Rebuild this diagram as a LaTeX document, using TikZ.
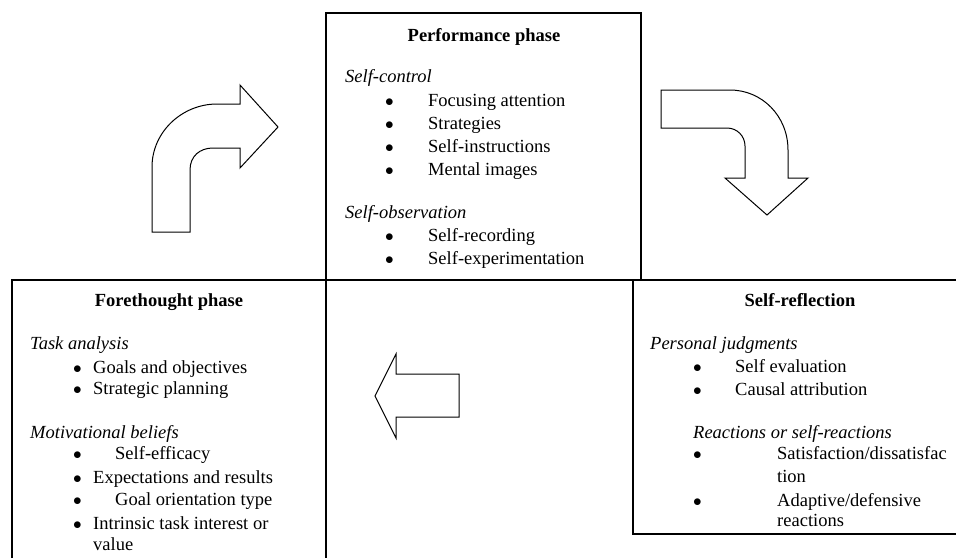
\documentclass[tikz,border=0pt]{standalone}
\usepackage{fontspec}
\setmainfont{Liberation Serif}
\newcommand{\blt}[1]{\makebox[#1][l]{$\bullet$}}
\tikzset{
  txt/.style={anchor=base west,inner sep=0pt,font=\fontsize{18.5}{23}\selectfont},
  head/.style={txt,anchor=base,font=\fontsize{18.5}{23}\selectfont\bfseries},
  sub/.style={txt,font=\fontsize{18.5}{23}\selectfont\itshape},
  frame/.style={line width=1.3pt},
  blockarrow/.style={line width=1pt,line join=miter}
}

\begin{document}
\begin{tikzpicture}[x=1pt,y=-1pt]
    \useasboundingbox (0,0) rectangle (956,558);
    % frames
    \draw [frame] (326,13) rectangle (641,280);
    \draw [frame] (12,558) -- (12,280) -- (326,280) -- (326,558);
    \draw [frame] (956,280) -- (633,280) -- (633,534) -- (956,534);
    % performance phase
    \path (484,  41) node [head] (perf) {Performance phase};
    \path (345,  82) node [sub] (perfctrl) {Self-control};
    \path (385, 106) node [txt] (focus) {\blt{43pt}Focusing attention};
    \path (385, 129) node [txt] (strat) {\blt{43pt}Strategies};
    \path (385, 152) node [txt] (instr) {\blt{43pt}Self-instructions};
    \path (385, 175) node [txt] (images) {\blt{43pt}Mental images};
    \path (345, 218) node [sub] (perfobs) {Self-observation};
    \path (385, 241) node [txt] (record) {\blt{43pt}Self-recording};
    \path (385, 264) node [txt] (experiment) {\blt{43pt}Self-experimentation};
    % forethought phase
    \path (169, 306) node [head] (fore) {Forethought phase};
    \path ( 30, 349) node [sub] (task) {Task analysis};
    \path ( 73, 373) node [txt] (goals) {\blt{20pt}Goals and objectives};
    \path ( 73, 394) node [txt] (planning) {\blt{20pt}Strategic planning};
    \path ( 30, 438) node [sub] (motiv) {Motivational beliefs};
    \path ( 73, 459) node [txt] (efficacy) {\blt{42pt}Self-efficacy};
    \path ( 73, 483) node [txt] (expect) {\blt{20pt}Expectations and results};
    \path ( 73, 505) node [txt] (orient) {\blt{42pt}Goal orientation type};
    \path ( 73, 529) node [txt] (interest) {\blt{20pt}Intrinsic task interest or};
    \path ( 93, 550) node [txt] (value) {value};
    % self-reflection
    \path (800, 306) node [head] (refl) {Self-reflection};
    \path (650, 349) node [sub] (judg) {Personal judgments};
    \path (693, 372) node [txt] (evaluation) {\blt{42pt}Self evaluation};
    \path (693, 395) node [txt] (attribution) {\blt{42pt}Causal attribution};
    \path (693, 438) node [sub] (reactions) {Reactions or self-reactions};
    \path (693, 459) node [txt] (satisf) {\blt{84pt}Satisfaction/dissatisfac};
    \path (777, 482) node [txt] (satisfb) {tion};
    \path (693, 506) node [txt] (adaptive) {\blt{84pt}Adaptive/defensive};
    \path (777, 526) node [txt] (adaptiveb) {reactions};
    % block arrows
    \draw [blockarrow] (152,232) -- (152,167) .. controls (152,132) and (182,104) .. (217,104)
        -- (240,104) -- (240,85) -- (278,127) -- (240,168) -- (240,148) -- (213,148)
        .. controls (200,148) and (190,156) .. (190,170) -- (190,232) -- cycle;
    \draw [blockarrow] (661,90) -- (730,90) .. controls (762,90) and (788,116) .. (788,150)
        -- (788,178) -- (808,178) -- (767,215) -- (725,178) -- (745,178) -- (745,146)
        .. controls (745,136) and (737,128) .. (727,128) -- (661,128) -- cycle;
    \draw [blockarrow] (375,396) -- (396,354) -- (396,374) -- (459,374) -- (459,417)
        -- (396,417) -- (396,438) -- cycle;
\end{tikzpicture}
\end{document}
